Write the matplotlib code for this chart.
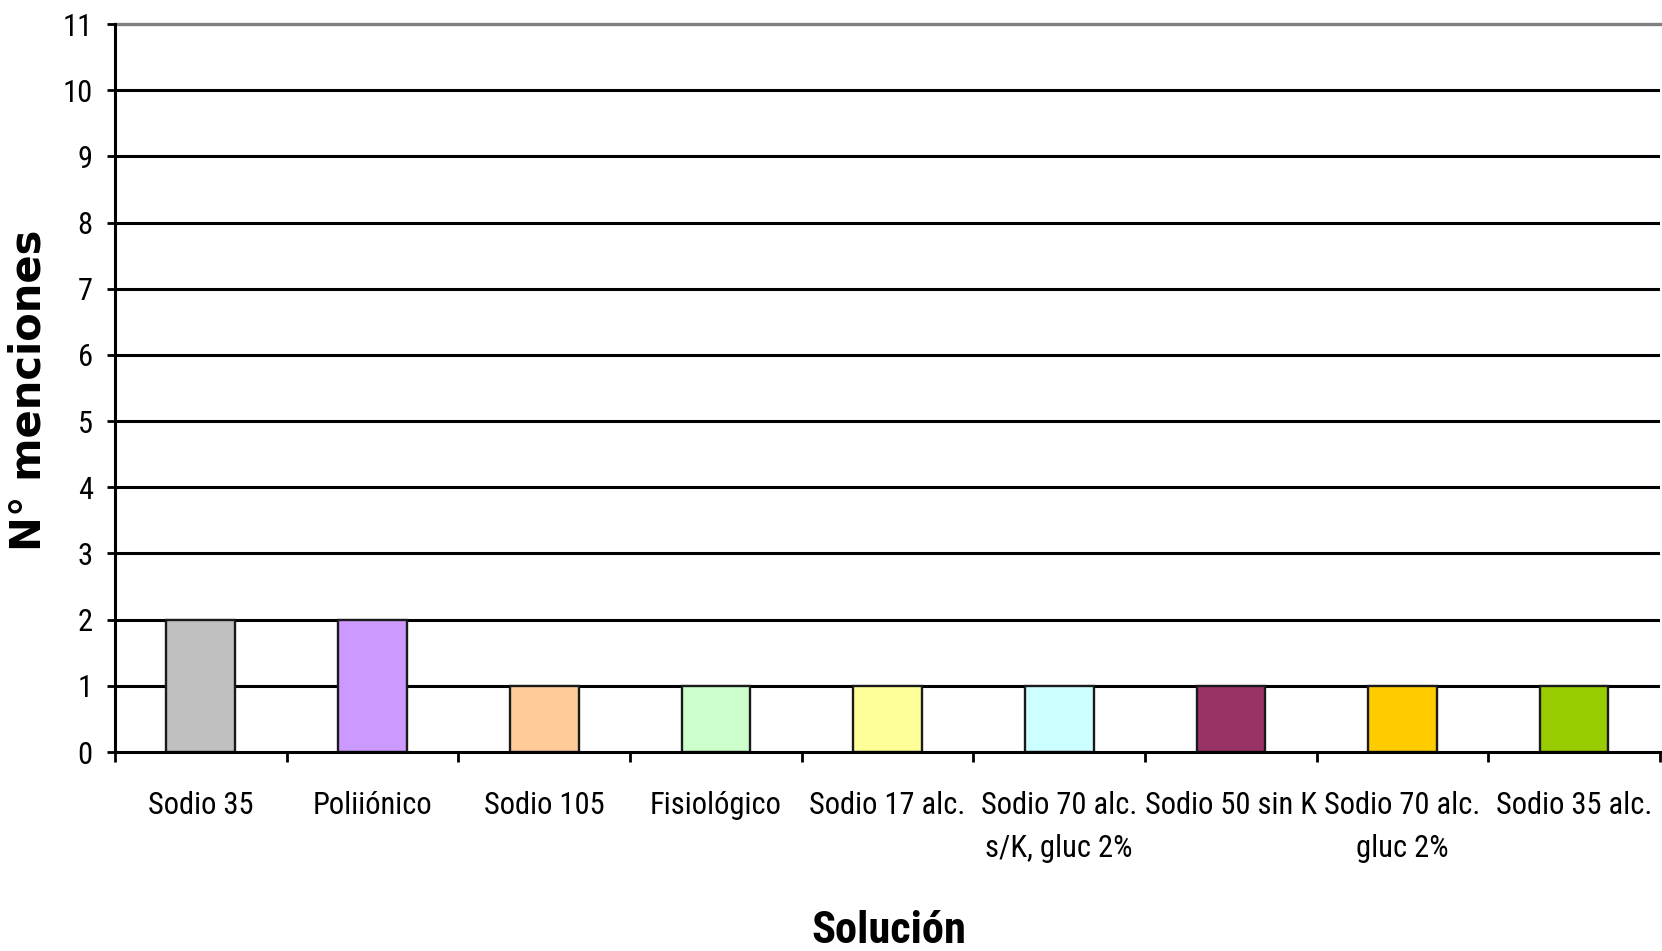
import numpy as np
import matplotlib
matplotlib.use("Agg")
import matplotlib.pyplot as plt
from matplotlib.ticker import FixedLocator

categories = ["Sodio 35", "Poliiónico", "Sodio 105", "Fisiológico", "Sodio 17 alc.",
              "Sodio 70 alc.\ns/K, gluc 2%", "Sodio 50 sin K", "Sodio 70 alc.\ngluc 2%",
              "Sodio 35 alc."]
values = [2, 2, 1, 1, 1, 1, 1, 1, 1]
colors = ["#C0C0C0", "#CC99FF", "#FFCC99", "#CCFFCC", "#FFFF99",
          "#CCFFFF", "#993366", "#FFCC00", "#99CC00"]
y_ticks = list(range(0, 12))

narrow = ["Roboto Condensed", "DejaVu Sans"]

fig = plt.figure(figsize=(16.62, 9.51), dpi=100)
ax = fig.add_axes([115/1662, 1-752/951, (1660-115)/1662, (752-24)/951])

x = np.arange(len(categories))
ax.set_xlim(-0.5, len(categories) - 0.5)
ax.set_ylim(0, 11)

# gridlines
for yv in y_ticks[1:-1]:
    ax.axhline(yv, color="black", lw=2.2, zorder=1)
ax.axhline(11, color="#808080", lw=2.4, zorder=1, clip_on=False)

ax.bar(x, values, width=0.4, color=colors, edgecolor="#1a1a1a", linewidth=1.7, zorder=3)

for s in ["top", "right"]:
    ax.spines[s].set_visible(False)
ax.spines["left"].set_linewidth(2.2)
ax.spines["bottom"].set_linewidth(2.2)
ax.spines["left"].set_zorder(4)
ax.spines["bottom"].set_zorder(4)

ax.set_yticks(y_ticks)
ax.set_yticklabels([str(v) for v in y_ticks], fontfamily=narrow, fontsize=22)
ax.tick_params(axis="y", length=6, width=2, pad=10, direction="out")

ax.set_xticks(x)
ax.set_xticklabels(categories, fontfamily=narrow, fontsize=22, linespacing=1.6)
ax.tick_params(axis="x", which="major", length=0, pad=28)
ax.xaxis.set_minor_locator(FixedLocator(np.arange(-0.5, len(categories), 1.0)))
ax.tick_params(axis="x", which="minor", length=7.5, width=2, direction="out")

fig.text(28.6/1662, 1-390/951, "N° menciones", rotation=90, ha="center", va="center",
         fontfamily=["DejaVu Sans"], fontweight="bold", fontsize=30)
fig.text(889/1662, 1-943/951, "Solución", ha="center", va="baseline",
         fontfamily=narrow, fontweight="bold", fontsize=32)

fig.savefig("out.png", dpi=100, facecolor="white")
